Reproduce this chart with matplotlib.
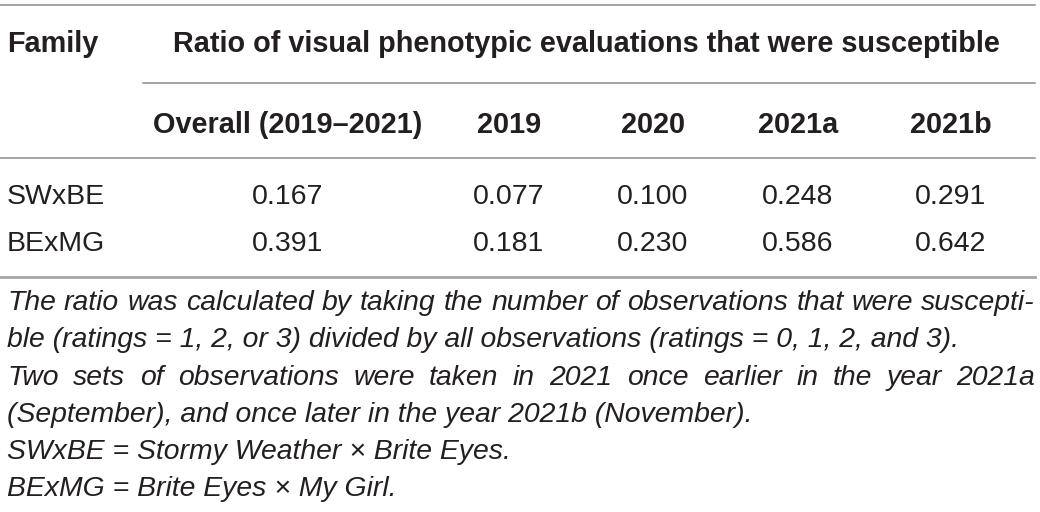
import matplotlib
matplotlib.use('Agg')
import matplotlib.pyplot as plt

# table content
families = ['SWxBE', 'BExMG']
col_labels = ['Overall (2019–2021)', '2019', '2020', '2021a', '2021b']
overall = [0.167, 0.391]
y2019 = [0.077, 0.181]
y2020 = [0.100, 0.230]
y2021a = [0.248, 0.586]
y2021b = [0.291, 0.642]
span_title = 'Ratio of visual phenotypic evaluations that were susceptible'
stub_title = 'Family'

# footnote lines (text, justified?)
notes = [
    ('The ratio was calculated by taking the number of observations that were suscepti-', True),
    ('ble (ratings = 1, 2, or 3) divided by all observations (ratings = 0, 1, 2, and 3).', False),
    ('Two sets of observations were taken in 2021 once earlier in the year 2021a', True),
    ('(September), and once later in the year 2021b (November).', False),
    ('SWxBE = Stormy Weather \u00d7 Brite Eyes.', False),
    ('BExMG = Brite Eyes \u00d7 My Girl.', False),
]

W, H = 1040, 512
txt = '#231f20'
rule = '#8c8c8c'
fs_head = 20.8
fs_body = 20.5
fs_note = 20.4

plt.rcParams['font.family'] = ['Liberation Sans', 'DejaVu Sans']

fig = plt.figure(figsize=(W / 100, H / 100), dpi=100)
ax = fig.add_axes([0, 0, 1, 1])
ax.set_xlim(0, W)
ax.set_ylim(H, 0)
ax.axis('off')

col_x = [288, 509, 653, 798, 951]
left = 7
right = 1035

# rules
ax.plot([0, right], [5, 5], color=rule, lw=1.1)
ax.plot([143, right], [83, 83], color=rule, lw=1.1)
ax.plot([0, right], [158, 158], color=rule, lw=1.1)
ax.plot([0, right], [277, 277], color='#a6a6a6', lw=2.0)

# headers
ax.text(left, 52.5, stub_title, fontsize=fs_head, fontweight='bold', color=txt,
        ha='left', va='baseline')
ax.text(173, 52.5, span_title, fontsize=fs_head, fontweight='bold', color=txt,
        ha='left', va='baseline')
for x, lab in zip(col_x, col_labels):
    ax.text(x, 133, lab, fontsize=fs_head, fontweight='bold', color=txt,
            ha='center', va='baseline')

# body
series = [overall, y2019, y2020, y2021a, y2021b]
row_y = [204, 251]
for i, fam in enumerate(families):
    ax.text(left, row_y[i], fam, fontsize=fs_body, color=txt,
            ha='left', va='baseline')
    for x, vals in zip(col_x, series):
        ax.text(x, row_y[i], '%.3f' % vals[i], fontsize=fs_body, color=txt,
                ha='center', va='baseline')

# footnotes, justified where the original is
renderer = fig.canvas.get_renderer()
for k, (line, just) in enumerate(notes):
    y = 310 + 37.3 * k
    if not just:
        ax.text(left, y, line, fontsize=fs_note, fontstyle='italic', color=txt,
                ha='left', va='baseline')
        continue
    words = line.split(' ')
    objs = []
    widths = []
    for w in words:
        t = ax.text(0, y, w, fontsize=fs_note, fontstyle='italic', color=txt,
                    ha='left', va='baseline')
        objs.append(t)
        widths.append(t.get_window_extent(renderer).width)
    gap = (right - left - sum(widths)) / (len(words) - 1)
    x = left
    for t, wd in zip(objs, widths):
        t.set_x(x)
        x += wd + gap

fig.savefig('out.png', dpi=100)
